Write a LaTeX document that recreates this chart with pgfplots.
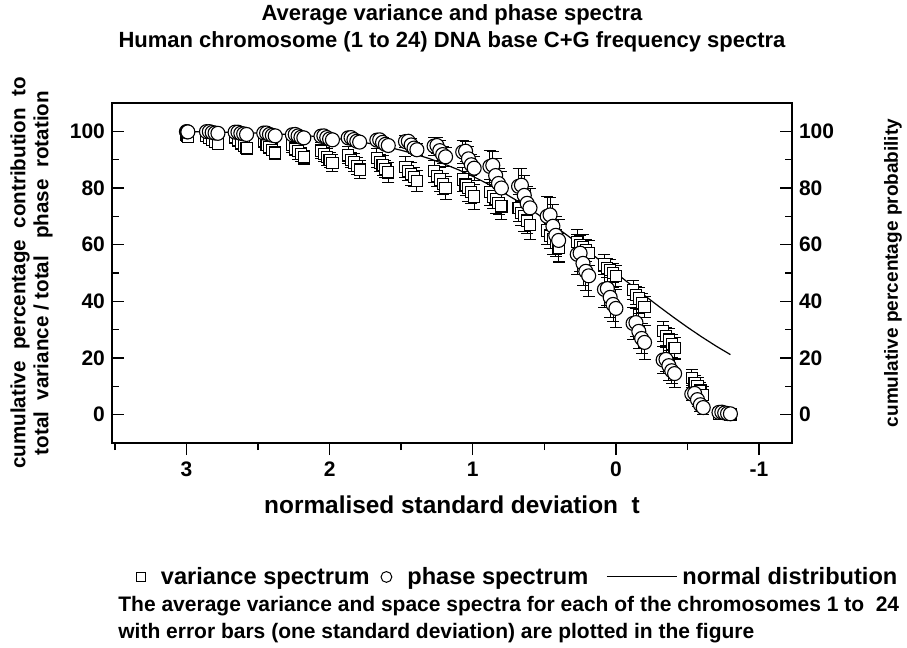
\documentclass[border=0pt]{standalone}
\usepackage{fontspec}
\setmainfont{Liberation Sans}
\usepackage{pgfplots}
\usepackage{pgfplotstable}
\pgfplotsset{compat=1.18}

% variance spectrum (squares): t, cumulative %, one standard deviation
\pgfplotstableread{
t v e
3.00 98.8 1.4
2.995 98.4 1.3
2.99 98.0 1.5
2.86 98.5 1.7
2.84 97.6 1.5
2.82 97.0 1.9
2.80 96.2 1.6
2.78 95.5 1.8
2.66 98.0 2.1
2.64 96.8 1.9
2.62 96.0 2.3
2.60 95.0 2.0
2.58 94.0 2.2
2.46 96.5 2.2
2.44 95.3 2.0
2.42 94.5 2.4
2.40 93.5 2.1
2.38 92.5 2.3
2.26 95.2 2.5
2.24 93.9 2.3
2.22 93.0 2.8
2.20 91.9 2.4
2.18 90.8 2.6
2.06 93.2 2.8
2.04 91.9 2.5
2.02 91.0 3.1
2.00 89.9 2.7
1.98 88.8 2.9
1.87 91.5 3.0
1.85 90.0 2.7
1.83 89.0 3.3
1.81 87.8 2.9
1.79 86.5 3.2
1.67 90.5 3.3
1.65 89.0 3.0
1.63 88.0 3.6
1.61 86.8 3.1
1.59 85.5 3.5
1.47 87.5 3.6
1.45 86.0 3.2
1.43 85.0 4.0
1.41 83.8 3.4
1.39 82.5 3.8
1.27 86.0 3.9
1.25 84.2 3.5
1.23 83.0 4.3
1.21 81.5 3.7
1.19 80.0 4.1
1.07 83.0 4.2
1.05 81.2 3.8
1.03 80.0 4.6
1.01 78.5 4.0
0.99 77.0 4.4
0.88 78.5 4.5
0.86 77.0 4.1
0.84 76.0 5.0
0.82 74.8 4.3
0.80 73.5 4.7
0.68 73.0 4.9
0.66 71.2 4.4
0.64 70.0 5.4
0.62 68.5 4.7
0.60 67.0 5.1
0.48 65.0 4.9
0.46 63.2 4.4
0.44 62.0 5.4
0.42 60.5 4.7
0.40 59.0 5.1
0.27 61.0 4.2
0.25 59.8 3.8
0.23 59.0 4.6
0.21 58.0 4.0
0.19 57.0 4.4
0.08 53.0 3.5
0.06 51.8 3.2
0.04 51.0 3.9
0.02 50.0 3.3
0.00 49.0 3.7
-0.12 44.0 3.5
-0.14 42.2 3.2
-0.16 41.0 3.9
-0.18 39.5 3.3
-0.20 38.0 3.7
-0.33 29.5 3.5
-0.35 27.7 3.2
-0.37 26.5 3.9
-0.39 25.0 3.3
-0.41 23.5 3.7
-0.53 13.0 2.8
-0.55 11.2 2.5
-0.57 10.0 3.1
-0.59 8.5 2.7
-0.61 7.0 2.9
-0.72 0.4 0.4
-0.74 0.3 0.4
-0.76 0.3 0.4
-0.78 0.2 0.3
-0.80 0.1 0.3
}\variancedata

% phase spectrum (circles)
\pgfplotstableread{
t v e
3.00 99.9 0.4
2.995 99.85 0.4
2.99 99.8 0.4
2.86 99.9 0.5
2.84 99.9 0.5
2.82 99.6 0.6
2.80 99.4 0.5
2.78 99.3 0.5
2.66 99.7 0.6
2.64 99.7 0.5
2.62 99.3 0.7
2.60 99.1 0.6
2.58 98.9 0.6
2.46 99.4 0.8
2.44 99.4 0.7
2.42 98.9 0.9
2.40 98.6 0.8
2.38 98.4 0.8
2.26 98.8 0.9
2.24 98.9 0.8
2.22 98.4 1.0
2.20 97.9 0.9
2.18 97.7 0.9
2.06 98.3 1.0
2.04 98.4 0.9
2.02 97.8 1.1
2.00 97.3 1.0
1.98 97.0 1.0
1.87 97.7 1.3
1.85 97.8 1.2
1.83 97.1 1.4
1.81 96.5 1.2
1.79 96.2 1.4
1.67 96.9 1.6
1.65 97.0 1.4
1.63 96.1 1.8
1.61 95.4 1.5
1.59 95.0 1.7
1.47 96.4 2.0
1.45 96.5 1.8
1.43 95.2 2.2
1.41 94.1 1.9
1.39 93.5 2.1
1.27 94.8 3.2
1.25 95.0 2.9
1.23 93.2 3.5
1.21 91.8 3.0
1.19 91.0 3.4
1.07 92.7 4.0
1.05 93.0 3.6
1.03 90.3 4.4
1.01 88.2 3.8
0.99 87.0 4.2
0.88 87.6 5.6
0.86 88.0 5.0
0.84 84.4 6.2
0.82 81.6 5.3
0.80 80.0 5.9
0.68 80.6 6.4
0.66 81.0 5.8
0.64 77.4 7.0
0.62 74.6 6.1
0.60 73.0 6.7
0.48 70.0 7.0
0.46 70.5 6.3
0.44 66.5 7.7
0.42 63.3 6.6
0.40 61.5 7.3
0.27 56.6 7.0
0.25 57.0 6.3
0.23 53.4 7.7
0.21 50.6 6.6
0.19 49.0 7.3
0.08 44.2 6.4
0.06 44.5 5.8
0.04 41.4 7.0
0.02 38.9 6.1
0.00 37.5 6.7
-0.12 32.2 5.6
-0.14 32.5 5.0
-0.16 29.4 6.2
-0.18 26.9 5.3
-0.20 25.5 5.9
-0.33 19.3 4.8
-0.35 19.5 4.3
-0.37 17.3 5.3
-0.39 15.5 4.6
-0.41 14.5 5.0
-0.53 7.3 2.3
-0.55 7.5 2.1
-0.57 5.3 2.5
-0.59 3.5 2.2
-0.61 2.5 2.4
-0.72 0.8 0.4
-0.74 0.9 0.4
-0.76 0.6 0.4
-0.78 0.4 0.4
-0.80 0.3 0.4
}\phasedata

% normal distribution, cumulative percentage probability
\pgfplotstableread{
t p
3.0 99.87
2.9 99.81
2.8 99.74
2.7 99.65
2.6 99.53
2.5 99.38
2.4 99.18
2.3 98.93
2.2 98.61
2.1 98.21
2.0 97.72
1.9 97.13
1.8 96.41
1.7 95.54
1.6 94.52
1.5 93.32
1.4 91.92
1.3 90.32
1.2 88.49
1.1 86.43
1.0 84.13
0.9 81.59
0.8 78.81
0.7 75.80
0.6 72.57
0.5 69.15
0.4 65.54
0.3 61.79
0.2 57.93
0.1 53.98
0.0 50.00
-0.1 46.02
-0.2 42.07
-0.3 38.21
-0.4 34.46
-0.5 30.85
-0.6 27.43
-0.7 24.20
-0.8 21.19
}\normaldata

\begin{document}
\begin{tikzpicture}[font=\bfseries\fontsize{10}{12}\selectfont]
\useasboundingbox (0,0) rectangle (453.5pt,-324pt);
\pgfplotsset{
  common/.style={
    at={(56pt,-221.5pt)}, anchor=south west,
    scale only axis, width=340pt, height=170pt,
    x dir=reverse, xmin=-1.23, xmax=3.52, ymin=-10, ymax=110,
    ytick={0,20,40,60,80,100}, minor ytick={-10,10,30,50,70,90},
    ytick align=inside, xtick align=outside,
    major tick length=6pt, minor tick length=3.5pt,
    tick style={black, line width=0.7pt},
    axis line style={line width=0.9pt},
    /pgf/number format/assume math mode=true,
    tick label style={font=\bfseries\fontsize{10.5}{12}\selectfont},
  }
}
\begin{axis}[common,
  xtick={-1,0,1,2,3}, minor xtick={-0.5,0.5,1.5,2.5,3.5},
  xtick pos=bottom, ytick pos=left,
  title={Average variance and phase spectra\\Human chromosome (1 to 24) DNA base C+G frequency spectra},
  title style={at={(0.5,1)}, anchor=center, yshift=31.5pt, align=center, font=\bfseries\fontsize{11}{13.5}\selectfont},
  xlabel={normalised standard deviation\ \ t},
  xlabel style={at={(0.5,0)}, anchor=center, yshift=-31pt, font=\bfseries\fontsize{12.2}{14}\selectfont},
  ylabel={cumulative\ \ percentage\ \ contribution\ \ to\\total\ \ variance / total\ \ \ phase\ \ rotation},
  ylabel style={at={(0,0.5)}, anchor=center, yshift=40.25pt, align=center, font=\bfseries\fontsize{10.3}{11.5}\selectfont},
  legend columns=3,
  legend style={at={(0.036,-0.394)}, anchor=west, draw=none, fill=none, inner sep=0pt, outer sep=0pt,
    nodes={inner sep=0pt, outer sep=0pt}, column sep=0pt, font=\bfseries\fontsize{11.8}{13}\selectfont,
    /tikz/column 1/.style={column sep=7.25pt},
    /tikz/column 2/.style={column sep=5.5pt},
    /tikz/column 3/.style={column sep=7.5pt},
    /tikz/column 4/.style={column sep=9pt},
    /tikz/column 5/.style={column sep=2.5pt}},
  error bars/y dir=both, error bars/y explicit,
  error bars/error bar style={black, line width=0.45pt},
  error bars/error mark options={black, mark size=3pt, line width=0.45pt, rotate=90},
]
\addplot[forget plot, only marks, mark=square*, mark size=2.8pt, mark options={fill=white, draw=black, line width=0.55pt}]
  table[x=t, y=v, y error=e] {\variancedata};
\addplot[forget plot, only marks, mark=*, mark size=3.5pt, mark options={fill=white, draw=black, line width=0.55pt}]
  table[x=t, y=v, y error=e] {\phasedata};
\addplot[forget plot, black, line width=0.6pt, no marks] table[x=t, y=p] {\normaldata};
\addlegendimage{legend image code/.code={\draw[black, line width=0.5pt, fill=white] (-2.25pt,-2.25pt) rectangle (2.25pt,2.25pt);}}
\addlegendentry{variance spectrum}
\addlegendimage{legend image code/.code={\draw[black, line width=0.5pt, fill=white] (0,0) circle (2.7pt);}}
\addlegendentry{phase spectrum}
\addlegendimage{legend image code/.code={\draw[black, line width=0.5pt] (0,0) -- (35pt,0);}}
\addlegendentry{normal distribution}
\end{axis}
\begin{axis}[common,
  xtick=\empty, minor xtick={},
  ytick pos=right, yticklabel pos=right,
  ylabel={cumulative percentage probability},
  ylabel style={at={(1,0.5)}, anchor=center, yshift=-50.5pt, font=\bfseries\fontsize{9.5}{11.5}\selectfont},
]
\end{axis}
\node[anchor=west, inner sep=0pt, font=\bfseries\fontsize{10.5}{12}\selectfont] at (59pt,-303pt) {The average variance and space spectra for each of the chromosomes 1 to\ \ 24};
\node[anchor=west, inner sep=0pt, font=\bfseries\fontsize{10.5}{12}\selectfont] at (59pt,-316.5pt) {with error bars (one standard deviation) are plotted in the figure};
\end{tikzpicture}
\end{document}
